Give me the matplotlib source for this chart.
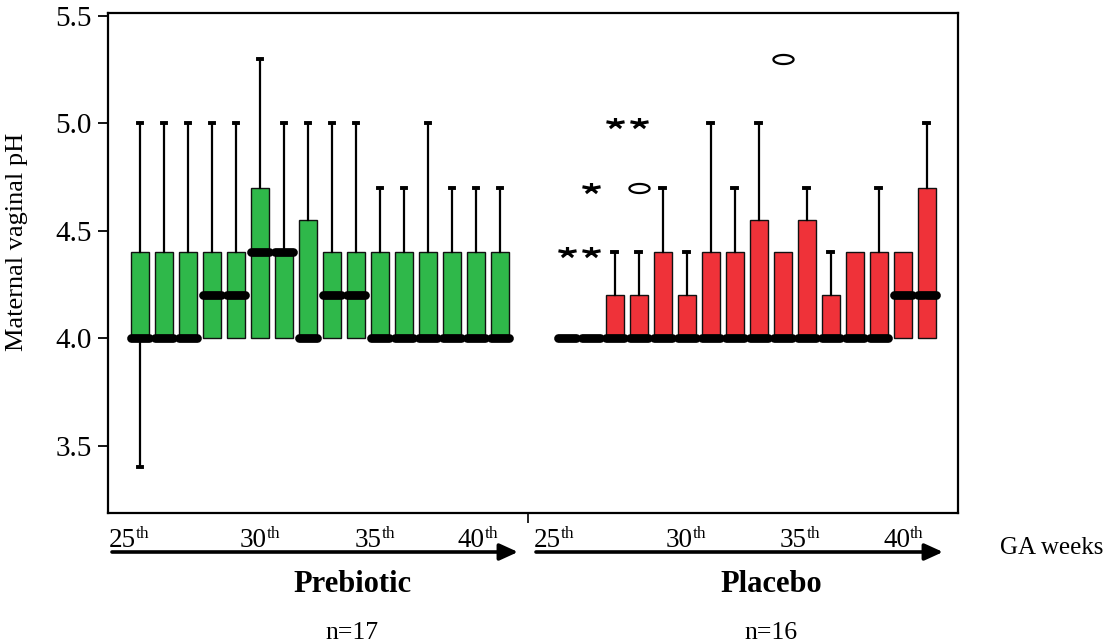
import numpy as np
import matplotlib
matplotlib.use("Agg")
import matplotlib.pyplot as plt
from matplotlib.path import Path
from matplotlib.patches import FancyArrowPatch

plt.rcParams['font.family'] = ['Liberation Serif', 'DejaVu Serif']

# ---------------- data ----------------
weeks = list(range(25, 41))

pre_q1 = [4.0] * 16
pre_med = [4.0, 4.0, 4.0, 4.2, 4.2, 4.4, 4.4, 4.0, 4.2, 4.2, 4.0, 4.0, 4.0, 4.0, 4.0, 4.0]
pre_q3 = [4.4, 4.4, 4.4, 4.4, 4.4, 4.7, 4.4, 4.55, 4.4, 4.4, 4.4, 4.4, 4.4, 4.4, 4.4, 4.4]
pre_lo = [3.4] + [4.0] * 15
pre_hi = [5.0, 5.0, 5.0, 5.0, 5.0, 5.3, 5.0, 5.0, 5.0, 5.0, 4.7, 4.7, 5.0, 4.7, 4.7, 4.7]

plc_q1 = [4.0] * 16
plc_med = [4.0] * 14 + [4.2, 4.2]
plc_q3 = [4.0, 4.0, 4.2, 4.2, 4.4, 4.2, 4.4, 4.4, 4.55, 4.4, 4.55, 4.2, 4.4, 4.4, 4.4, 4.7]
plc_lo = [4.0] * 16
plc_hi = [4.0, 4.0, 4.4, 4.4, 4.7, 4.4, 5.0, 4.7, 5.0, 4.4, 4.7, 4.4, 4.4, 4.7, 4.4, 5.0]

# extreme outliers (*) and outliers (o) in the placebo group: box index, value
plc_star_box = [0, 1, 1, 2, 3]
plc_star_val = [4.4, 4.4, 4.7, 5.0, 5.0]
plc_circ_box = [3, 9]
plc_circ_val = [4.7, 5.3]

yticks = [3.5, 4.0, 4.5, 5.0, 5.5]
group_names = ["Prebiotic", "Placebo"]
group_n = ["n=17", "n=16"]
week_marks = ["25", "30", "35", "40"]

GREEN = "#2fb84a"
RED = "#ef3239"

# ---------------- figure ----------------
W, H = 1114, 644
fig = plt.figure(figsize=(W / 100, H / 100), dpi=100)
ax = fig.add_axes([108 / W, 1 - 513 / H, (958 - 108) / W, (513 - 13) / H])

gap = 17.78
pre_pos = np.arange(len(weeks), dtype=float)
plc_pos = gap + np.arange(len(weeks), dtype=float)


def stats(q1, med, q3, lo, hi):
    return [dict(q1=a, med=b, q3=c, whislo=d, whishi=e, fliers=[])
            for a, b, c, d, e in zip(q1, med, q3, lo, hi)]


def draw(st, pos, color):
    r = ax.bxp(st, positions=pos, widths=0.75, patch_artist=True,
               capwidths=0.2, manage_ticks=False,
               boxprops=dict(facecolor=color, edgecolor='#111111', linewidth=1.0),
               whiskerprops=dict(color='black', linewidth=1.6),
               capprops=dict(color='black', linewidth=2.8),
               medianprops=dict(color='black', linewidth=6.3, solid_capstyle='round'))
    for w, c in zip(r['whiskers'], r['caps']):
        y = w.get_ydata()
        if abs(y[1] - y[0]) < 1e-9:
            c.set_visible(False)
            w.set_visible(False)
    for b in r['boxes']:
        b.set_zorder(2)
    for m in r['medians']:
        m.set_zorder(4)
    for b, s in zip(r['boxes'], st):
        if s['q3'] == s['q1']:
            b.set_visible(False)


draw(stats(pre_q1, pre_med, pre_q3, pre_lo, pre_hi), pre_pos, GREEN)
draw(stats(plc_q1, plc_med, plc_q3, plc_lo, plc_hi), plc_pos, RED)

# star (extreme) and ellipse (outlier) markers
ang = np.deg2rad(90 + 72 * np.arange(5))
verts, codes = [], []
for a in ang:
    verts += [(0, 0), (np.cos(a), 0.58 * np.sin(a))]
    codes += [Path.MOVETO, Path.LINETO]
star = Path(verts, codes)
t = np.linspace(0, 2 * np.pi, 60)
ellipse = Path(np.column_stack([np.cos(t), 0.45 * np.sin(t)]), closed=True)

ax.plot(plc_pos[plc_star_box], plc_star_val, ls='none', marker=star, markersize=13,
        markerfacecolor='none', markeredgecolor='black', markeredgewidth=2.3, zorder=5)
ax.plot(plc_pos[plc_circ_box], plc_circ_val, ls='none', marker=ellipse, markersize=14.5,
        markerfacecolor='none', markeredgecolor='black', markeredgewidth=1.6, zorder=5)

ax.set_xlim(-1.333, 34.08)
ax.set_ylim(3.186, 5.512)
ax.set_yticks(yticks)
ax.set_yticklabels([f"{v:.1f}" for v in yticks])
ax.tick_params(axis='y', labelsize=21, length=7.5, width=1.3, pad=4, direction='out')
ax.set_xticks([16.17])
ax.set_xticklabels([""])
ax.tick_params(axis='x', length=7, width=1.2, direction='out')
for s in ax.spines.values():
    s.set_linewidth(1.6)
ax.set_ylabel("Maternal vaginal pH", fontsize=19)
ax.yaxis.set_label_coords(-(108 - 28) / (958 - 108), (513 - 242) / 500)


def fx(px):
    return px / W


def fy(py):
    return 1 - py / H


pre_left = [109, 240, 355, 458]
plc_left = [534, 666, 780, 883]
for lefts in (pre_left, plc_left):
    for x, lab in zip(lefts, week_marks):
        tx = fig.text(fx(x), fy(547), lab, fontsize=19.5, ha='left', va='baseline')
        ax.annotate("th", xy=(1.0, 1.06), xycoords=tx, fontsize=12.5,
                    ha='left', va='top', annotation_clip=False)

for x0, x1 in ((112, 518), (536, 943)):
    fig.add_artist(FancyArrowPatch(
        (fx(x0), fy(552)), (fx(x1), fy(552)), transform=fig.transFigure,
        arrowstyle='-|>,head_length=1.1,head_width=0.5', mutation_scale=10,
        lw=2.6, color='black', shrinkA=0, shrinkB=0))

fig.text(fx(1000), fy(548), "GA weeks", fontsize=18, ha='left', va='center')

for cx, name, n in zip((352, 771), group_names, group_n):
    fig.text(fx(cx), fy(584), name, fontsize=22, fontweight='bold', ha='center', va='center')
    fig.text(fx(cx), fy(633), n, fontsize=18.5, ha='center', va='center')

fig.savefig("out.png", dpi=100)
